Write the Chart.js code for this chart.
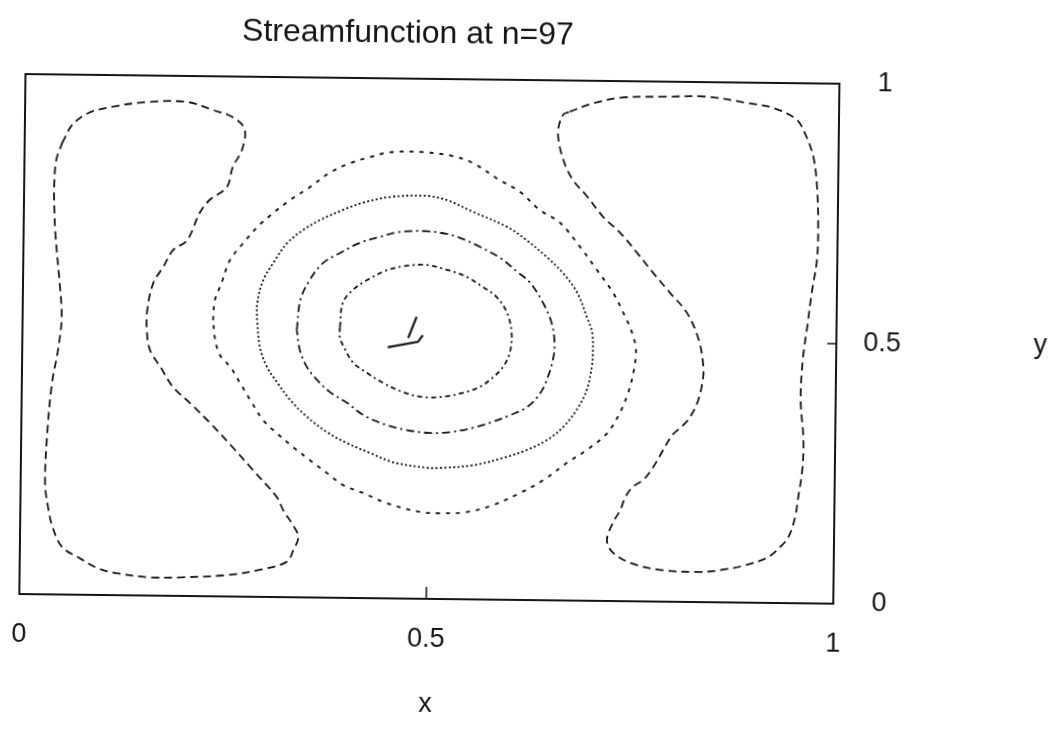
<!DOCTYPE html>
<html>
<head>
<meta charset="utf-8">
<title>Streamfunction at n=97</title>
<script src="https://cdn.jsdelivr.net/npm/chart.js@4.4.1/dist/chart.umd.min.js"></script>
<style>
  html, body { margin: 0; padding: 0; background: #fff; overflow: hidden; }
  /* the plotted sheet sits slightly askew */
  #plot { display: block; transform: rotate(0.68deg); }
</style>
</head>
<body>
<canvas id="plot" width="1049" height="742"></canvas>
<script>
const INK = "#151515";
const FONT = "'Liberation Sans', Arial, Helvetica, sans-serif";

const xTicks = [0, 0.5, 1];
const yTicks = [0, 0.5, 1];

// corner cells (long dashes)
const leftCellX = [0.046,0.058,0.077,0.104,0.150,0.199,0.231,0.255,0.270,0.267,0.256,0.249,0.228,0.216,0.201,0.184,0.172,0.160,0.153,0.153,0.157,0.170,0.186,0.207,0.232,0.260,0.285,0.315,0.323,0.335,0.342,0.336,0.328,0.295,0.255,0.201,0.160,0.120,0.095,0.074,0.052,0.040,0.034,0.030,0.032,0.037,0.044,0.048,0.045,0.039,0.037,0.037,0.039,0.046];
const leftCellY = [0.868,0.903,0.926,0.938,0.949,0.950,0.935,0.922,0.899,0.859,0.826,0.787,0.762,0.737,0.684,0.665,0.632,0.601,0.549,0.505,0.472,0.440,0.401,0.371,0.333,0.287,0.244,0.192,0.167,0.139,0.116,0.091,0.068,0.052,0.041,0.036,0.035,0.042,0.052,0.070,0.091,0.129,0.168,0.214,0.310,0.406,0.470,0.533,0.599,0.695,0.758,0.791,0.835,0.868];

const rightCellX = [0.669,0.698,0.731,0.783,0.837,0.887,0.919,0.948,0.958,0.969,0.974,0.976,0.975,0.969,0.964,0.959,0.957,0.961,0.960,0.955,0.952,0.944,0.934,0.918,0.889,0.861,0.836,0.787,0.750,0.728,0.721,0.728,0.737,0.743,0.752,0.765,0.777,0.789,0.800,0.809,0.819,0.830,0.836,0.837,0.831,0.816,0.795,0.774,0.754,0.733,0.712,0.692,0.674,0.662,0.655,0.661,0.669];
const rightCellY = [0.940,0.957,0.968,0.971,0.972,0.961,0.952,0.930,0.905,0.859,0.801,0.724,0.661,0.597,0.532,0.468,0.391,0.314,0.257,0.199,0.166,0.127,0.108,0.087,0.071,0.062,0.058,0.061,0.074,0.094,0.117,0.150,0.175,0.200,0.220,0.234,0.259,0.292,0.321,0.334,0.350,0.383,0.422,0.452,0.504,0.556,0.594,0.632,0.670,0.708,0.738,0.777,0.809,0.847,0.899,0.934,0.940];

// central vortex, outermost to innermost
const ring1X = [0.234,0.236,0.244,0.254,0.270,0.287,0.306,0.327,0.351,0.375,0.400,0.424,0.449,0.489,0.526,0.551,0.584,0.609,0.634,0.659,0.684,0.705,0.725,0.738,0.749,0.754,0.751,0.745,0.735,0.720,0.695,0.671,0.642,0.614,0.581,0.549,0.516,0.491,0.450,0.421,0.396,0.376,0.355,0.334,0.314,0.297,0.281,0.268,0.256,0.243,0.237,0.234];
const ring1Y = [0.531,0.570,0.603,0.647,0.680,0.711,0.738,0.764,0.789,0.817,0.836,0.848,0.858,0.859,0.852,0.839,0.807,0.785,0.750,0.726,0.680,0.636,0.593,0.554,0.516,0.483,0.439,0.401,0.362,0.323,0.290,0.265,0.231,0.206,0.182,0.168,0.165,0.167,0.183,0.202,0.217,0.240,0.264,0.289,0.315,0.340,0.378,0.411,0.441,0.464,0.493,0.531];

const ring2X = [0.288,0.288,0.295,0.307,0.324,0.343,0.364,0.392,0.416,0.450,0.495,0.520,0.552,0.594,0.618,0.643,0.663,0.681,0.693,0.700,0.701,0.700,0.694,0.682,0.666,0.646,0.622,0.597,0.556,0.515,0.499,0.457,0.429,0.400,0.376,0.351,0.330,0.314,0.301,0.292,0.288];
const ring2Y = [0.532,0.565,0.609,0.642,0.681,0.706,0.726,0.746,0.760,0.772,0.775,0.767,0.745,0.717,0.692,0.660,0.630,0.592,0.546,0.515,0.473,0.450,0.405,0.367,0.334,0.308,0.289,0.275,0.258,0.252,0.252,0.262,0.279,0.298,0.318,0.347,0.379,0.412,0.442,0.480,0.532];

const ring3X = [0.337,0.341,0.352,0.368,0.389,0.413,0.438,0.462,0.495,0.520,0.536,0.561,0.586,0.607,0.623,0.639,0.650,0.654,0.652,0.646,0.637,0.621,0.600,0.579,0.555,0.527,0.502,0.474,0.449,0.420,0.400,0.379,0.363,0.350,0.341,0.337];
const ring3Y = [0.514,0.572,0.610,0.643,0.663,0.683,0.695,0.705,0.707,0.702,0.695,0.678,0.657,0.631,0.610,0.572,0.533,0.491,0.462,0.429,0.398,0.371,0.355,0.342,0.330,0.321,0.319,0.324,0.333,0.352,0.375,0.395,0.418,0.443,0.476,0.514];

const ring4X = [0.390,0.393,0.405,0.423,0.447,0.471,0.496,0.521,0.545,0.565,0.582,0.595,0.601,0.599,0.591,0.579,0.563,0.542,0.518,0.493,0.468,0.444,0.424,0.407,0.397,0.390,0.390];
const ring4Y = [0.521,0.567,0.592,0.612,0.631,0.640,0.642,0.633,0.620,0.601,0.582,0.552,0.513,0.475,0.448,0.428,0.409,0.397,0.389,0.388,0.397,0.414,0.433,0.452,0.477,0.501,0.521];

// tiny solid contour at the vortex core
const coreAX = [0.484, 0.474];
const coreAY = [0.542, 0.501];
const coreBX = [0.449, 0.486, 0.492];
const coreBY = [0.483, 0.494, 0.507];

const pts = (xs, ys) => xs.map((x, i) => ({ x, y: ys[i] }));

const contours = [
  { xs: leftCellX, ys: leftCellY, dash: [8, 5], width: 1.8 },
  { xs: rightCellX, ys: rightCellY, dash: [8, 5], width: 1.8 },
  { xs: ring1X, ys: ring1Y, dash: [4, 6], width: 1.9 },
  { xs: ring2X, ys: ring2Y, dash: [2, 2.4], width: 1.8 },
  { xs: ring3X, ys: ring3Y, dash: [8, 4, 2, 4], width: 1.8 },
  { xs: ring4X, ys: ring4Y, dash: [5, 3.5, 2, 3.5], width: 1.8 },
  { xs: coreAX, ys: coreAY, dash: [], width: 2.2, tension: 0 },
  { xs: coreBX, ys: coreBY, dash: [], width: 2.2, tension: 0 },
];

// box, inward ticks, heading and the upright y label
const frame = {
  id: "frame",
  afterDatasetsDraw(chart) {
    const { ctx, chartArea: a, scales: { x, y } } = chart;
    ctx.save();
    ctx.strokeStyle = INK;
    ctx.lineWidth = 2;
    ctx.strokeRect(a.left, a.top, a.right - a.left, a.bottom - a.top);
    ctx.lineWidth = 1.5;
    ctx.beginPath();
    xTicks.forEach((v) => {
      const px = x.getPixelForValue(v);
      ctx.moveTo(px, a.bottom);
      ctx.lineTo(px, a.bottom - 12);
    });
    yTicks.forEach((v) => {
      const py = y.getPixelForValue(v);
      ctx.moveTo(a.right, py);
      ctx.lineTo(a.right - 9, py);
    });
    ctx.stroke();

    ctx.fillStyle = INK;
    ctx.textAlign = "center";
    ctx.textBaseline = "middle";
    ctx.font = `32px ${FONT}`;
    ctx.fillText("Streamfunction at n=97", a.left + 382, 35);
    ctx.font = `27px ${FONT}`;
    ctx.fillText("y", a.right + 204, y.getPixelForValue(0.5));
    ctx.restore();
  },
};

const tickFont = { family: FONT, size: 27 };

new Chart(document.getElementById("plot"), {
  type: "scatter",
  data: {
    datasets: contours.map((c) => ({
      data: pts(c.xs, c.ys),
      showLine: true,
      fill: false,
      borderColor: INK,
      borderWidth: c.width,
      borderDash: c.dash,
      borderCapStyle: "butt",
      tension: c.tension ?? 0.35,
      pointRadius: 0,
      pointHoverRadius: 0,
    })),
  },
  options: {
    responsive: false,
    animation: false,
    devicePixelRatio: 1,
    layout: { padding: { left: 22, top: 80, right: 0, bottom: 0 } },
    plugins: { legend: { display: false }, tooltip: { enabled: false }, title: { display: false } },
    scales: {
      x: {
        type: "linear", min: 0, max: 1, position: "bottom",
        afterBuildTicks: (s) => { s.ticks = xTicks.map((v) => ({ value: v })); },
        afterFit: (s) => { s.height = 142; s.paddingLeft = 0; s.paddingRight = 0; },
        grid: { display: false, drawTicks: false },
        border: { display: false },
        ticks: { color: INK, font: tickFont, padding: 24, maxRotation: 0, autoSkip: false, callback: (v) => String(v) },
        title: { display: true, text: "x", color: INK, font: tickFont, padding: { top: 0, bottom: 20 } },
      },
      y: {
        type: "linear", min: 0, max: 1, position: "right",
        afterBuildTicks: (s) => { s.ticks = yTicks.map((v) => ({ value: v })); },
        afterFit: (s) => { s.width = 213; s.paddingTop = 0; s.paddingBottom = 0; },
        grid: { display: false, drawTicks: false },
        border: { display: false },
        ticks: { color: INK, font: tickFont, padding: 27, crossAlign: "center", autoSkip: false, callback: (v) => String(v) },
      },
    },
  },
  plugins: [frame],
});
</script>
</body>
</html>
